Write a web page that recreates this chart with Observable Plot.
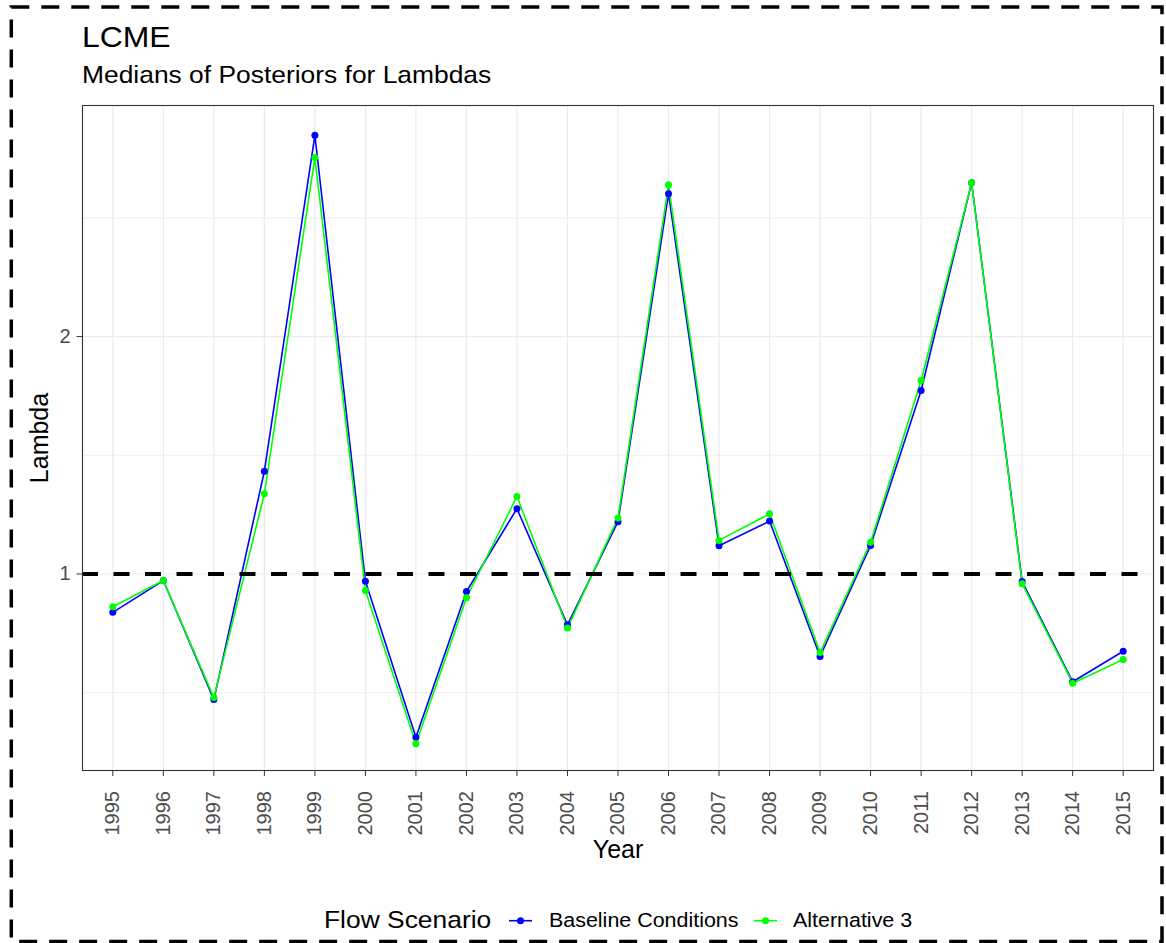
<!DOCTYPE html>
<html><head><meta charset="utf-8">
<script src="https://cdn.jsdelivr.net/npm/d3@7"></script>
<script src="https://cdn.jsdelivr.net/npm/@observablehq/plot@0.6"></script>
<style>
body{margin:0;background:#fff;}
#wrap{position:relative;width:1166px;height:943px;font-family:"Liberation Sans",Arial,Helvetica,sans-serif;}
#wrap > svg{position:absolute;left:0;top:0;}
</style></head><body><div id="wrap"></div>
<script>
const years = [1995,1996,1997,1998,1999,2000,2001,2002,2003,2004,2005,2006,2007,2008,2009,2010,2011,2012,2013,2014,2015];
const baseline = [0.894,0.981,0.693,1.350,3.600,0.979,0.621,0.950,1.210,0.862,1.165,3.035,1.086,1.167,0.786,1.087,1.709,3.134,0.978,0.730,0.798];
const alt3     = [0.909,0.981,0.697,1.264,3.374,0.953,0.609,0.933,1.254,0.854,1.178,3.115,1.103,1.192,0.795,1.097,1.759,3.134,0.972,0.727,0.779];
const scenarios = ["Baseline Conditions","Alternative 3"];
const colors = ["#0000ff","#00ff00"];
const yTicks = [1,2];
const yMinorTicks = [0.7071,1.4142,2.8284];
const refLine = [1];

const rows = years.flatMap((yr,i)=>[
  {year:yr, lambda:baseline[i], scenario:scenarios[0]},
  {year:yr, lambda:alt3[i], scenario:scenarios[1]}
]);

const font = '"Liberation Sans",Arial,Helvetica,sans-serif';
const chart = Plot.plot({
  width:1166, height:943,
  marginTop:105, marginBottom:173, marginLeft:82, marginRight:13,
  style:{fontFamily:font, background:"transparent", overflow:"visible"},
  x:{type:"point", domain:years, padding:0.6, round:false, label:null},
  y:{type:"log", base:2, domain:[0.5634,3.927], label:null},
  color:{domain:scenarios, range:colors},
  marks:[
    Plot.gridX(years,{stroke:"#ebebeb", strokeOpacity:1, strokeWidth:1.2}),
    Plot.gridY(yMinorTicks,{stroke:"#ebebeb", strokeOpacity:1, strokeWidth:0.8}),
    Plot.gridY(yTicks,{stroke:"#ebebeb", strokeOpacity:1, strokeWidth:1.2}),
    Plot.line(rows,{x:"year", y:"lambda", stroke:"scenario", z:"scenario", strokeWidth:1.6}),
    Plot.dot(rows,{x:"year", y:"lambda", fill:"scenario", r:3.5}),
    Plot.ruleY(refLine,{stroke:"black", strokeWidth:4, strokeDasharray:"16,15.5"}),
    Plot.frame({stroke:"#333333", strokeWidth:1.1}),
    Plot.axisX({tickRotate:-90, tickSize:6, tickPadding:14.5, fontSize:20, tickFormat:d=>String(d), stroke:"#333333", fill:"#4d4d4d", label:null}),
    Plot.axisY({ticks:yTicks, tickFormat:d=>String(d), tickSize:5.5, tickPadding:6.5, fontSize:20, stroke:"#333333", fill:"#4d4d4d", label:null}),
    Plot.text(["Year"],{frameAnchor:"bottom", dy:87, fontSize:25, fill:"black"}),
    Plot.text(["Lambda"],{frameAnchor:"left", textAnchor:"middle", rotate:-90, dx:-43, fontSize:25, fill:"black"})
  ]
});
const wrap = document.getElementById("wrap");
wrap.appendChild(chart);

// overlay: title, subtitle, legend, outer dashed border
const ov = d3.select(wrap).append("svg").attr("width",1166).attr("height",943)
  .style("font-family",font);
ov.append("rect").attr("x",11.3).attr("y",7).attr("width",1150.7).attr("height",934.5)
  .attr("fill","none").attr("stroke","black").attr("stroke-width",3.5).attr("stroke-dasharray","18,12");
function txt(x,y,size,s){
  ov.append("text").attr("transform",`translate(${x},${y}) scale(1.1,1)`)
    .attr("font-size",size).attr("fill","black").text(s);
}
txt(82,47,29,"LCME");
txt(82,83,24,"Medians of Posteriors for Lambdas");
txt(324,928,24,"Flow Scenario");
const keyX = [509,754];
const labX = [549,793];
scenarios.forEach((s,i)=>{
  ov.append("line").attr("x1",keyX[i]).attr("x2",keyX[i]+23).attr("y1",920.7).attr("y2",920.7)
    .attr("stroke",colors[i]).attr("stroke-width",1.6);
  ov.append("circle").attr("cx",keyX[i]+11.5).attr("cy",920.7).attr("r",3.5).attr("fill",colors[i]);
  txt(labX[i],927.3,19.5,s);
});
</script></body></html>
